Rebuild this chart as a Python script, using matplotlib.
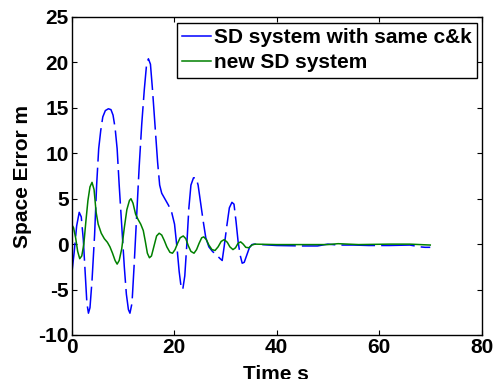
import numpy as np
import matplotlib
matplotlib.use("Agg")
import matplotlib.pyplot as plt
from matplotlib.lines import Line2D

plt.rcParams['font.family'] = ['Liberation Sans', 'DejaVu Sans']
plt.rcParams['font.weight'] = 'bold'
plt.rcParams['axes.unicode_minus'] = False

# SD system with same c&k (blue)
t_same = [0.0, 0.5, 1.0, 1.5, 1.9, 2.3, 2.7, 3.0, 3.3, 3.6, 4.0, 4.5, 4.9, 5.3,
          5.7, 6.1, 6.6, 7.2, 7.7, 8.1, 8.5, 8.9, 9.3, 9.8, 10.3, 10.7, 11.1,
          11.4, 11.8, 12.2, 12.7, 13.2, 13.7, 14.2, 14.6, 15.0, 15.4, 15.8,
          16.3, 16.8, 17.2, 17.6, 18.3, 18.9, 19.5, 20.1, 20.6, 21.0, 21.4,
          21.7, 22.1, 22.5, 22.9, 23.3, 23.8, 24.3, 24.7, 25.2, 25.7, 26.2,
          26.8, 27.5, 28.3, 29.0, 29.4, 29.8, 30.3, 30.8, 31.3, 31.7, 32.1,
          32.5, 32.9, 33.3, 33.7, 34.2, 34.7, 35.2, 35.6, 40.0, 45.0, 48.0,
          50.0, 52.0, 55.0, 58.0, 62.0, 66.0, 68.0, 69.0, 70.0]
e_same = [-3.5, -1.0, 2.0, 3.5, 3.0, 0.5, -3.5, -6.5, -7.6, -7.0, -4.0, 1.0,
          6.5, 10.5, 12.5, 14.0, 14.7, 14.9, 14.8, 14.2, 12.8, 10.5, 6.5, 2.0,
          -2.5, -5.5, -7.2, -7.6, -6.5, -2.5, 3.0, 8.5, 13.2, 17.0, 19.5, 20.4,
          19.8, 17.0, 13.0, 9.0, 6.5, 5.6, 4.9, 4.3, 3.6, 2.2, -0.5, -3.0,
          -4.8, -5.0, -3.5, 0.0, 4.0, 6.5, 7.3, 7.3, 6.5, 4.5, 2.5, 0.7, -0.3,
          -0.8, -1.2, -1.6, -1.8, -0.2, 2.0, 4.0, 4.6, 4.4, 2.5, 0.3, -1.2,
          -2.1, -2.0, -1.2, -0.4, -0.05, 0.0, -0.15, -0.2, -0.2, 0.0, -0.1,
          -0.1, -0.15, -0.15, -0.1, -0.3, -0.35, -0.35]

# new SD system (green)
t_new = [0.0, 0.4, 0.8, 1.2, 1.6, 2.0, 2.4, 2.8, 3.2, 3.6, 4.0, 4.4, 4.8, 5.2,
         5.8, 6.4, 7.0, 7.5, 8.0, 8.5, 8.9, 9.3, 9.8, 10.3, 10.8, 11.3, 11.6,
         12.0, 12.5, 13.0, 13.5, 14.0, 14.4, 14.8, 15.2, 15.6, 16.1, 16.6,
         17.1, 17.6, 18.1, 18.6, 19.2, 19.7, 20.2, 20.7, 21.2, 21.8, 22.3,
         22.8, 23.3, 23.9, 24.4, 24.9, 25.4, 25.8, 26.3, 26.8, 27.4, 28.0,
         28.6, 29.2, 29.8, 30.4, 30.9, 31.5, 32.0, 32.5, 33.0, 33.5, 34.0,
         34.6, 35.2, 35.8, 40.0, 50.0, 52.0, 56.0, 62.0, 66.0, 70.0]
e_new = [2.2, 1.8, 0.7, -0.8, -1.6, -1.3, 0.0, 2.5, 4.8, 6.3, 6.8, 6.0, 3.5,
         2.2, 1.2, 0.6, 0.2, -0.3, -1.0, -1.8, -2.2, -1.8, -0.5, 1.8, 3.8, 4.8,
         5.0, 4.5, 3.3, 2.7, 2.2, 1.5, 0.3, -1.0, -1.5, -1.3, -0.2, 0.9, 1.2,
         1.0, 0.4, -0.3, -0.9, -1.0, -0.6, 0.1, 0.7, 0.9, 0.6, -0.2, -0.8, -1.0,
         -0.6, 0.1, 0.7, 0.8, 0.5, -0.1, -0.6, -0.7, -0.3, 0.3, 0.5, 0.2, -0.3,
         -0.6, -0.4, 0.1, 0.25, 0.0, -0.35, -0.4, -0.1, 0.0, -0.05, -0.05, 0.05,
         -0.05, 0.0, 0.0, -0.1]

labels = ['SD system with same c&k', 'new SD system']
xticks = [0, 20, 40, 60, 80]
yticks = [-10, -5, 0, 5, 10, 15, 20, 25]

fig = plt.figure(figsize=(4.96, 3.79), dpi=100)
ax = fig.add_axes([0.1442, 0.1161, 0.8266, 0.8391])

ax.plot(t_same, e_same, color='#0000ff', lw=1.1, dashes=(22, 4))
ax.plot(t_new, e_new, color='#008000', lw=1.1)

ax.set_xlim(0, 80)
ax.set_ylim(-10, 25)
ax.set_xticks(xticks)
ax.set_yticks(yticks)
ax.tick_params(direction='in', length=3.5, width=0.8, top=True, right=True,
               labelsize=15, pad=2)
for s in ax.spines.values():
    s.set_linewidth(1.0)

fig.text(0.557, 0.012, 'Time s', ha='center', va='center', fontsize=15,
         fontweight='bold')
fig.text(0.045, 0.535, 'Space Error m', ha='center', va='center',
         rotation=90, fontsize=15, fontweight='bold')

handles = [Line2D([], [], color='#0000ff', lw=1.1),
           Line2D([], [], color='#008000', lw=1.1)]
leg = ax.legend(handles, labels, loc='upper right',
                bbox_to_anchor=(0.989, 0.981), fontsize=15, handlelength=1.4,
                handletextpad=0.15, borderpad=0.25, labelspacing=0.3,
                borderaxespad=0, fancybox=False, framealpha=1,
                edgecolor='black')
leg.get_frame().set_linewidth(1.0)

fig.savefig('out.png', dpi=100)
